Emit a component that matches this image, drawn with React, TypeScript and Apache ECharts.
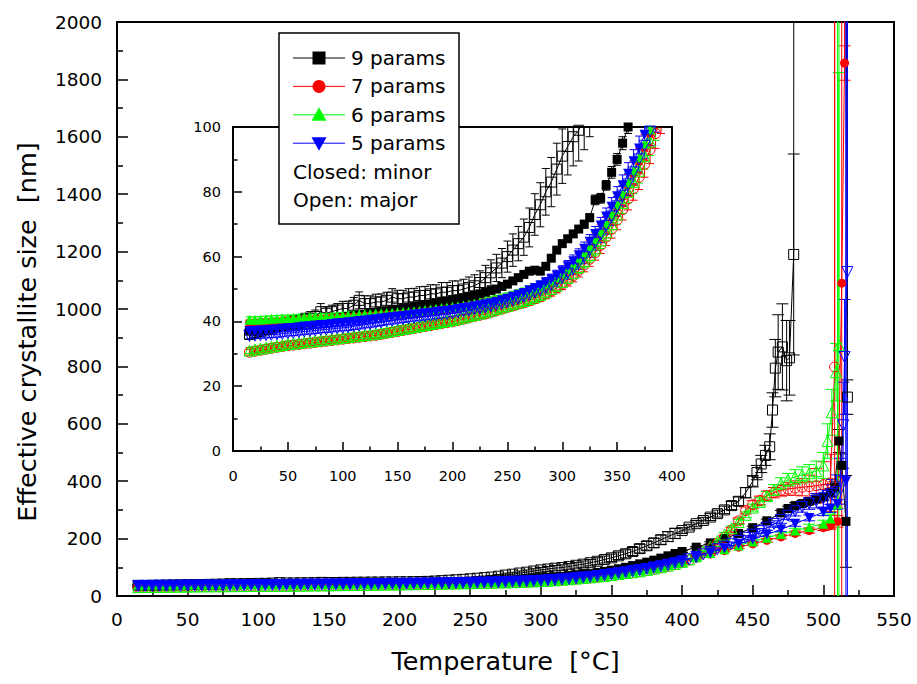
import React, { useEffect, useRef } from "react";
import * as echarts from "echarts";

// ---------- DATA ----------
const TEMPS_LOW = [
  15, 20, 25, 30, 35, 40, 45, 50, 55, 60, 65, 70, 75, 80, 85, 90, 95, 100,
  105, 110, 115, 120, 125, 130, 135, 140, 145, 150, 155, 160, 165, 170, 175, 180, 185, 190, 195, 200,
  205, 210, 215, 220, 225, 230, 235, 240, 245, 250, 255, 260, 265, 270, 275, 280, 285, 290, 295, 300,
  305, 310, 315, 320, 325, 330, 335, 340, 345, 350, 355, 360, 365, 370, 375, 380, 385, 390, 395,
];

// 9 params, minor (closed squares)
const nineMinorLow = [
  37.0, 37.2, 37.5, 37.8, 38.0, 38.3, 38.5, 38.8, 39.0, 39.2, 39.5, 39.7, 40.0, 40.2, 40.5, 40.7, 41.0, 41.2,
  41.5, 41.7, 42.0, 42.2, 42.5, 42.7, 43.0, 43.2, 43.5, 43.7, 44.0, 44.2, 44.5, 44.8, 45.0, 45.3, 45.6, 46.0, 46.3, 46.6,
  47.0, 47.3, 47.7, 48.0, 48.5, 49.0, 49.5, 50.0, 50.8, 51.5, 52.5, 53.5, 54.5, 55.5, 55.8, 55.5, 57.0, 59.5, 62.0, 64.0,
  65.5, 67.0, 68.5, 70.0, 72.0, 77.5, 78.0, 82.0, 86.0, 90.0, 95.0, 100, 106, 112, 118, 125, 132, 140, 148,
];
const nineMinorErrLow = [
  0.5, 0.5, 0.5, 0.5, 0.5, 0.5, 0.5, 0.5, 0.5, 0.5, 0.5, 0.5, 0.5, 0.5, 0.5, 0.5, 0.5, 0.5,
  0.5, 0.5, 0.5, 0.5, 0.5, 0.5, 0.5, 0.5, 0.5, 0.5, 0.5, 0.5, 0.5, 0.5, 0.5, 0.5, 0.5, 0.5, 0.5, 0.5,
  0.7, 0.7, 0.7, 0.7, 0.7, 0.7, 0.7, 0.7, 0.7, 0.7, 0.7, 0.7, 0.7, 0.7, 0.7, 0.7, 0.7, 0.7, 0.7, 0.7,
  1, 1, 1, 1.2, 1.2, 1.5, 1.5, 1.5, 1.8, 1.8, 2, 2, 2.2, 2.5, 2.5, 2.8, 3, 3, 3,
];
const nineMinorTailT = [400, 410, 420, 430, 440, 450, 460, 470, 475, 480, 485, 490, 495, 500, 505, 508, 511, 513, 516];
const nineMinorTailV = [155, 170, 185, 200, 218, 238, 262, 290, 305, 315, 322, 330, 338, 345, 360, 380, 540, 455, 260];
const nineMinorTailE = [3, 3, 4, 4, 5, 5, 6, 8, 8, 10, 10, 10, 12, 12, 15, 20, 40, 40, 160];

// 9 params, major (open squares)
const nineMajorLow = [
  36.0, 36.5, 37.0, 37.5, 38.0, 38.5, 39.0, 39.5, 40.0, 40.0, 40.5, 41.0, 41.5, 43.0, 42.5, 43.0, 43.5, 44.0,
  44.0, 45.0, 46.5, 45.5, 45.5, 46.0, 46.0, 46.5, 47.5, 47.0, 47.0, 47.5, 47.5, 48.0, 48.0, 48.5, 48.5, 49.0, 49.0, 49.5,
  49.5, 50.0, 50.5, 51.0, 52.0, 53.5, 55.0, 56.5, 58.0, 60.0, 62.0, 64.0, 66.0, 69.0, 73.0, 76.0, 80.0, 83.0, 87.0, 91.0,
  94, 97, 99, 103, 107, 111, 116, 121, 127, 133, 140, 147, 155, 165, 175, 185, 196, 207, 218,
];
const nineMajorErrLow = [
  1.5, 1.5, 1.6, 1.6, 1.7, 1.7, 1.8, 1.8, 1.8, 2, 2, 2, 2, 2.5, 2, 2, 2, 2.2,
  2.2, 2.4, 2.6, 2.4, 2.4, 2.4, 2.5, 2.5, 2.6, 2.6, 2.6, 2.6, 2.7, 2.7, 2.8, 2.8, 2.8, 3, 3, 3,
  3, 3, 3.2, 3.4, 3.6, 3.8, 4, 4.2, 4.5, 4.8, 5, 5.3, 5.6, 6, 6.4, 6.8, 7.2, 7.6, 8, 8.4,
  8.8, 9, 9.5, 10, 10, 11, 11, 12, 12, 13, 13, 14, 14, 15, 15, 16, 16, 17, 18,
];
const nineMajorTailT = [400, 405, 410, 415, 420, 425, 430, 435, 440, 445, 450, 453, 456, 459, 462, 464, 466, 468, 471, 474, 476, 479, 481, 517];
const nineMajorTailV = [228, 240, 252, 263, 275, 287, 300, 315, 330, 360, 400, 430, 460, 490, 520, 648, 794, 850, 868, 820, 830, 1190, 100000, 693];
const nineMajorTailE = [10, 10, 11, 11, 12, 12, 13, 14, 15, 18, 20, 25, 30, 35, 45, 60, 100, 130, 150, 140, 130, 350, 0, 60];

// 7 params
const sevenMinorLow = [
  39.5, 39.6, 39.7, 39.8, 39.9, 40.0, 40.1, 40.2, 40.3, 40.4, 40.5, 40.6, 40.7, 40.8, 40.9, 41.0, 41.1, 41.2,
  41.3, 41.4, 41.5, 41.6, 41.7, 41.8, 41.9, 42.0, 42.1, 42.2, 42.3, 42.4, 42.6, 42.8, 43.0, 43.2, 43.4, 43.6, 43.8, 44.0,
  44.2, 44.5, 44.8, 45.1, 45.4, 45.7, 46.0, 46.4, 46.8, 47.2, 47.7, 48.2, 48.7, 49.3, 50.0, 50.7, 51.5, 52.4, 53.4, 54.6,
  55.9, 57.4, 59.0, 60.8, 62.8, 65.0, 67.3, 69.8, 72.5, 75.4, 78.6, 82.0, 85.6, 89.5, 93.6, 98.0, 103, 108, 113,
];
const sevenMinorTailT = [400, 410, 420, 430, 440, 450, 460, 470, 480, 490, 500, 505, 510, 513, 515, 516];
const sevenMinorTailV = [118, 132, 146, 158, 170, 182, 194, 206, 218, 228, 238, 245, 260, 1090, 1857, 100000];
const sevenMinorTailE = [3, 3, 4, 4, 5, 5, 6, 7, 8, 9, 10, 12, 20, 1200, 60, 0];

const sevenMajorLow = [
  30.5, 30.8, 31.1, 31.4, 31.7, 32.0, 32.2, 32.5, 32.7, 32.9, 33.1, 33.3, 33.5, 33.7, 33.9, 34.1, 34.3, 34.5,
  34.7, 34.9, 35.1, 35.3, 35.5, 35.7, 36.0, 36.3, 36.6, 36.9, 37.2, 37.5, 37.8, 38.1, 38.4, 38.7, 39.0, 39.3, 39.6, 39.9,
  40.3, 40.7, 41.1, 41.5, 41.9, 42.3, 42.8, 43.3, 43.8, 44.3, 44.8, 45.3, 45.8, 46.4, 47.0, 47.7, 48.5, 49.4, 50.4, 51.5,
  52.7, 54.1, 55.7, 57.4, 59.2, 61.2, 63.5, 66.0, 68.5, 71.3, 74.5, 77.8, 81.0, 84.5, 88.5, 93.0, 98.0, 103, 109,
];
const sevenMajorTailT = [400, 405, 410, 415, 420, 425, 430, 435, 440, 445, 450, 455, 460, 465, 470, 475, 480, 485, 490, 495, 500, 505, 508, 510];
const sevenMajorTailV = [116, 125, 136, 150, 166, 184, 205, 230, 262, 298, 318, 333, 350, 360, 368, 373, 376, 379, 381, 384, 388, 394, 798, 100000];
const sevenMajorTailE = [3, 3, 4, 4, 5, 6, 7, 8, 10, 12, 14, 15, 16, 18, 20, 22, 25, 30, 40, 60, 80, 100, 1400, 0];

// 6 params
const sixMinorLow = [
  40.5, 40.5, 40.6, 40.7, 40.8, 40.9, 41.0, 41.0, 41.1, 41.2, 41.3, 41.4, 41.4, 41.5, 41.5, 41.6, 41.7, 41.8,
  41.9, 42.0, 42.1, 42.2, 42.3, 42.4, 42.5, 42.6, 42.7, 42.8, 42.9, 43.0, 43.1, 43.3, 43.5, 43.7, 43.9, 44.1, 44.3, 44.5,
  44.7, 44.9, 45.2, 45.5, 45.8, 46.1, 46.4, 46.8, 47.2, 47.6, 48.0, 48.5, 49.0, 49.6, 50.3, 51.0, 51.8, 52.7, 53.7, 55.0,
  56.3, 57.8, 59.5, 61.3, 63.3, 65.5, 68.0, 70.5, 73.3, 76.3, 79.5, 83.0, 86.7, 90.6, 94.8, 99.2, 104, 109, 114,
];
const sixMinorTailT = [400, 410, 420, 430, 440, 450, 460, 470, 480, 490, 500, 505, 510, 512];
const sixMinorTailV = [120, 135, 150, 163, 176, 190, 203, 216, 228, 240, 252, 270, 320, 100000];
const sixMinorTailE = [3, 3, 4, 4, 5, 6, 6, 7, 8, 10, 12, 15, 2000, 0];

const sixMajorLow = [
  31.0, 31.3, 31.6, 31.9, 32.2, 32.5, 32.7, 33.0, 33.2, 33.4, 33.6, 33.8, 34.0, 34.2, 34.4, 34.6, 34.8, 35.0,
  35.2, 35.4, 35.6, 35.8, 36.0, 36.2, 36.5, 36.8, 37.1, 37.4, 37.7, 38.0, 38.3, 38.6, 38.9, 39.2, 39.5, 39.8, 40.1, 40.4,
  40.8, 41.2, 41.6, 42.0, 42.4, 42.8, 43.3, 43.8, 44.3, 44.8, 45.3, 45.8, 46.3, 46.9, 47.5, 48.2, 49.0, 50.0, 51.0, 52.2,
  53.5, 55.0, 56.8, 58.6, 60.5, 62.5, 65.0, 67.5, 70.0, 73.0, 76.5, 80.0, 83.0, 86.5, 91.0, 95.5, 100.5, 106, 112,
];
const sixMajorTailT = [400, 405, 410, 415, 420, 425, 430, 435, 440, 445, 450, 455, 460, 465, 470, 475, 480, 485, 490, 495, 500, 503, 506, 509, 511, 512];
const sixMajorTailV = [119, 128, 140, 155, 172, 192, 214, 236, 258, 283, 308, 328, 348, 370, 392, 405, 415, 422, 428, 435, 455, 540, 640, 780, 874, 100000];
const sixMajorTailE = [3, 3, 4, 4, 5, 6, 7, 8, 9, 10, 12, 14, 16, 18, 20, 22, 25, 28, 30, 35, 45, 60, 80, 100, 950, 0];

// 5 params
const fiveMinorLow = [
  37.0, 37.1, 37.2, 37.3, 37.4, 37.5, 37.7, 37.9, 38.0, 38.2, 38.4, 38.5, 38.7, 38.9, 39.0, 39.2, 39.4, 39.5,
  39.7, 39.9, 40.1, 40.3, 40.5, 40.7, 40.9, 41.1, 41.3, 41.5, 41.7, 41.9, 42.1, 42.3, 42.5, 42.7, 42.9, 43.1, 43.3, 43.5,
  43.8, 44.1, 44.4, 44.7, 45.0, 45.3, 45.6, 46.0, 46.5, 47.0, 47.6, 48.2, 48.8, 49.5, 50.2, 51.0, 52.0, 53.0, 54.2, 55.5,
  57.0, 58.6, 60.4, 62.4, 64.6, 67.0, 69.6, 72.4, 75.4, 78.6, 82.0, 85.6, 89.4, 93.4, 97.6, 102, 107, 112, 118,
];
const fiveMinorTailT = [400, 410, 420, 430, 440, 450, 460, 470, 480, 490, 500, 505, 510, 516, 517];
const fiveMinorTailV = [124, 138, 152, 166, 181, 197, 214, 232, 252, 272, 292, 305, 320, 400, 100000];
const fiveMinorTailE = [3, 3, 4, 4, 5, 6, 7, 8, 9, 10, 12, 14, 16, 2000, 0];

const fiveMajorLow = [
  35.5, 35.6, 35.7, 35.8, 35.9, 36.0, 36.2, 36.4, 36.5, 36.7, 36.9, 37.0, 37.2, 37.4, 37.5, 37.7, 37.9, 38.0,
  38.2, 38.5, 38.7, 39.0, 39.2, 39.5, 39.7, 40.0, 40.2, 40.5, 40.7, 40.9, 41.1, 41.3, 41.5, 41.7, 41.9, 42.1, 42.3, 42.5,
  42.8, 43.1, 43.4, 43.7, 44.0, 44.3, 44.7, 45.1, 45.5, 46.0, 46.5, 47.0, 47.6, 48.2, 48.9, 49.6, 50.4, 51.3, 52.3, 53.5,
  54.8, 56.3, 58.0, 59.9, 62.0, 64.3, 66.8, 69.5, 72.4, 75.5, 78.8, 82.3, 86.0, 90.0, 94.2, 98.6, 103, 108, 114,
];
const fiveMajorTailT = [400, 405, 410, 415, 420, 425, 430, 435, 440, 445, 450, 455, 460, 465, 470, 475, 480, 485, 490, 495, 500, 503, 506, 509, 512, 514, 515, 517, 519];
const fiveMajorTailV = [120, 128, 136, 145, 154, 163, 172, 182, 192, 203, 214, 226, 238, 251, 265, 280, 295, 310, 322, 332, 340, 348, 356, 362, 400, 595, 833, 1129, 100000];
const fiveMajorTailE = [3, 3, 3, 4, 4, 5, 5, 6, 6, 7, 8, 9, 10, 11, 12, 14, 16, 18, 20, 25, 30, 40, 50, 60, 80, 150, 200, 2500, 0];

// error bars of the 7/6/5-parameter fits below 400 °C (read as the same size)
const COLOR_ERR_LOW = [
  0.9, 0.9, 0.9, 0.9, 0.9, 0.9, 0.9, 0.9, 0.9, 0.9, 0.9, 0.9, 0.9, 0.9, 0.9, 0.9, 0.9, 0.9,
  1, 1, 1, 1, 1, 1, 1, 1, 1, 1, 1, 1, 1, 1, 1, 1, 1, 1, 1, 1,
  1.1, 1.1, 1.1, 1.1, 1.1, 1.2, 1.2, 1.2, 1.2, 1.2, 1.3, 1.3, 1.3, 1.4, 1.4, 1.5, 1.5, 1.6, 1.6, 1.7,
  1.8, 1.9, 2, 2.1, 2.2, 2.3, 2.5, 2.6, 2.8, 3, 3.2, 3.4, 3.6, 3.8, 4, 4.3, 4.6, 5, 5.4,
];

const LEGEND_LABELS = ["9 params", "7 params", "6 params", "5 params"];
const LEGEND_NOTES = ["Closed: minor", "Open: major"];

const MAIN_X = [0, 550, 50];
const MAIN_Y = [0, 2000, 200];
const INSET_X = [0, 400, 50];
const INSET_Y = [0, 100, 20];

const X_TITLE = "Temperature  [°C]";
const Y_TITLE = "Effective crystallite size  [nm]";

// ---------- BUILD ----------
const FONT = "'DejaVu Sans', 'Liberation Sans', Arial, sans-serif";
const BLACK = "#000000";
const RED = "#ff0000";
const GREEN = "#00ff00";
const BLUE = "#0000ff";

function buildPoints(low: number[], lowErr: number[], tT: number[], tV: number[], tE: number[]) {
  const pts: number[][] = [];
  for (let i = 0; i < TEMPS_LOW.length; i++) pts.push([TEMPS_LOW[i], low[i], lowErr[i]]);
  for (let i = 0; i < tT.length; i++) pts.push([tT[i], tV[i], tE[i]]);
  return pts;
}

const SERIES_INFO = [
  { name: "9 params", color: BLACK, symbol: "rect", rotate: 0, filled: true, size: 9,
    pts: buildPoints(nineMinorLow, nineMinorErrLow, nineMinorTailT, nineMinorTailV, nineMinorTailE) },
  { name: "9 params major", color: BLACK, symbol: "rect", rotate: 0, filled: false, size: 10,
    pts: buildPoints(nineMajorLow, nineMajorErrLow, nineMajorTailT, nineMajorTailV, nineMajorTailE) },
  { name: "7 params", color: RED, symbol: "circle", rotate: 0, filled: true, size: 9,
    pts: buildPoints(sevenMinorLow, COLOR_ERR_LOW, sevenMinorTailT, sevenMinorTailV, sevenMinorTailE) },
  { name: "7 params major", color: RED, symbol: "circle", rotate: 0, filled: false, size: 10,
    pts: buildPoints(sevenMajorLow, COLOR_ERR_LOW, sevenMajorTailT, sevenMajorTailV, sevenMajorTailE) },
  { name: "6 params", color: GREEN, symbol: "triangle", rotate: 0, filled: true, size: 10,
    pts: buildPoints(sixMinorLow, COLOR_ERR_LOW, sixMinorTailT, sixMinorTailV, sixMinorTailE) },
  { name: "6 params major", color: GREEN, symbol: "triangle", rotate: 0, filled: false, size: 11,
    pts: buildPoints(sixMajorLow, COLOR_ERR_LOW, sixMajorTailT, sixMajorTailV, sixMajorTailE) },
  { name: "5 params", color: BLUE, symbol: "triangle", rotate: 180, filled: true, size: 10,
    pts: buildPoints(fiveMinorLow, COLOR_ERR_LOW, fiveMinorTailT, fiveMinorTailV, fiveMinorTailE) },
  { name: "5 params major", color: BLUE, symbol: "triangle", rotate: 180, filled: false, size: 11,
    pts: buildPoints(fiveMajorLow, COLOR_ERR_LOW, fiveMajorTailT, fiveMajorTailV, fiveMajorTailE) },
];

function errorRenderer(color: string, capHalf: number) {
  return (params: any, api: any) => {
    const x = api.value(0);
    const y = api.value(1);
    const e = api.value(2);
    if (!(e > 0) || !isFinite(y)) return null;
    const cs = params.coordSys;
    const top = api.coord([x, y + e]);
    const bot = api.coord([x, y - e]);
    const px = top[0];
    if (px < cs.x - 1 || px > cs.x + cs.width + 1) return null;
    const y0 = Math.max(top[1], cs.y);
    const y1 = Math.min(bot[1], cs.y + cs.height);
    if (y0 >= y1) return null;
    const style = { stroke: color, lineWidth: 1 };
    const children: any[] = [
      { type: "line", shape: { x1: px, y1: y0, x2: px, y2: y1 }, style },
    ];
    if (top[1] >= cs.y && top[1] <= cs.y + cs.height)
      children.push({ type: "line", shape: { x1: px - capHalf, y1: top[1], x2: px + capHalf, y2: top[1] }, style });
    if (bot[1] <= cs.y + cs.height && bot[1] >= cs.y)
      children.push({ type: "line", shape: { x1: px - capHalf, y1: bot[1], x2: px + capHalf, y2: bot[1] }, style });
    return { type: "group", children };
  };
}

function axisCommon(range: number[], labelSize: number, margin: number, tickLen: number, minorLen: number) {
  return {
    type: "value",
    min: range[0],
    max: range[1],
    interval: range[2],
    axisLine: { show: false },
    axisTick: { show: true, inside: true, length: tickLen, lineStyle: { color: BLACK, width: 1.5 } },
    minorTick: { show: true, splitNumber: 2, length: minorLen, lineStyle: { color: BLACK, width: 1.5 } },
    axisLabel: {
      fontSize: labelSize, color: BLACK, margin, fontFamily: FONT, showMinLabel: true, showMaxLabel: true,
      formatter: (v: number) => String(v),
    },
    splitLine: { show: false },
    minorSplitLine: { show: false },
  };
}

function buildOption() {
  const series: any[] = [];
  [0, 1].forEach((g) => {
    SERIES_INFO.forEach((s) => {
      series.push({
        type: "custom",
        name: s.name + (g ? " err inset" : " err"),
        xAxisIndex: g,
        yAxisIndex: g,
        data: s.pts,
        encode: { x: 0, y: 1 },
        renderItem: errorRenderer(s.color, g ? 4 : 6),
        silent: true,
        z: 2,
      });
      series.push({
        type: "line",
        name: s.name + (g ? " inset" : ""),
        xAxisIndex: g,
        yAxisIndex: g,
        data: s.pts.map((p) => [p[0], p[1]]),
        symbol: s.symbol,
        symbolSize: s.size,
        symbolRotate: s.rotate,
        showSymbol: true,
        showAllSymbol: true,
        clip: true,
        lineStyle: { color: s.color, width: 1 },
        itemStyle: {
          color: s.filled ? s.color : "rgba(255,255,255,0)",
          borderColor: s.color,
          borderWidth: s.filled ? 0 : 1,
        },
        emphasis: { disabled: true },
        silent: true,
        z: 3,
      });
    });
  });

  // legend drawn as graphic
  const lg: any[] = [];
  lg.push({ type: "rect", z: 100, shape: { x: 279, y: 33, width: 180, height: 191 },
    style: { fill: "#ffffff", stroke: BLACK, lineWidth: 1.5 } });
  const colors = [BLACK, RED, GREEN, BLUE];
  LEGEND_LABELS.forEach((label, i) => {
    const cy = 58 + i * 28.4;
    const c = colors[i];
    lg.push({ type: "line", z: 101, shape: { x1: 293, y1: cy, x2: 345, y2: cy }, style: { stroke: c, lineWidth: 1 } });
    if (i === 0) lg.push({ type: "rect", z: 102, shape: { x: 312.5, y: cy - 6.5, width: 13, height: 13 }, style: { fill: c } });
    if (i === 1) lg.push({ type: "circle", z: 102, shape: { cx: 319, cy, r: 6.5 }, style: { fill: c } });
    if (i === 2) lg.push({ type: "polygon", z: 102, shape: { points: [[319, cy - 7.5], [326.5, cy + 6], [311.5, cy + 6]] }, style: { fill: c } });
    if (i === 3) lg.push({ type: "polygon", z: 102, shape: { points: [[311.5, cy - 6], [326.5, cy - 6], [319, cy + 7.5]] }, style: { fill: c } });
    lg.push({ type: "text", z: 102, x: 351, y: cy,
      style: { text: label, fill: BLACK, fontSize: 20, fontFamily: FONT, verticalAlign: "middle", align: "left" } });
  });
  LEGEND_NOTES.forEach((t, i) => {
    lg.push({ type: "text", z: 102, x: 293, y: 172 + i * 28.4,
      style: { text: t, fill: BLACK, fontSize: 20, fontFamily: FONT, verticalAlign: "middle", align: "left" } });
  });

  return {
    animation: false,
    backgroundColor: "#ffffff",
    textStyle: { fontFamily: FONT },
    grid: [
      { left: 117, top: 22, right: 23, bottom: 88, show: true, borderColor: BLACK, borderWidth: 2, backgroundColor: "transparent" },
      { left: 233, top: 127, right: 245, bottom: 233, show: true, borderColor: BLACK, borderWidth: 2, backgroundColor: "transparent" },
    ],
    xAxis: [
      { ...axisCommon(MAIN_X, 18.5, 14, 11, 6), gridIndex: 0, name: X_TITLE, nameLocation: "middle", nameGap: 52,
        nameTextStyle: { fontSize: 25.5, color: BLACK, fontFamily: FONT } },
      { ...axisCommon(INSET_X, 14.5, 17, 9, 4.5), gridIndex: 1 },
    ],
    yAxis: [
      { ...axisCommon(MAIN_Y, 18.5, 15, 11, 6), gridIndex: 0, name: Y_TITLE, nameLocation: "middle", nameGap: 77, nameRotate: 90,
        nameTextStyle: { fontSize: 25.5, color: BLACK, fontFamily: FONT, padding: [0, 46, 0, 0] } },
      { ...axisCommon(INSET_Y, 14.5, 12, 9, 4.5), gridIndex: 1 },
    ],
    series,
    graphic: { elements: lg },
  };
}

export default function App() {
  const ref = useRef<HTMLDivElement>(null);
  useEffect(() => {
    document.body.style.margin = "0";
    if (!ref.current) return;
    const chart = echarts.init(ref.current, null, { renderer: "svg" });
    chart.setOption(buildOption() as any);
    return () => chart.dispose();
  }, []);
  return <div ref={ref} style={{ width: 917, height: 684, background: "#fff" }} />;
}
